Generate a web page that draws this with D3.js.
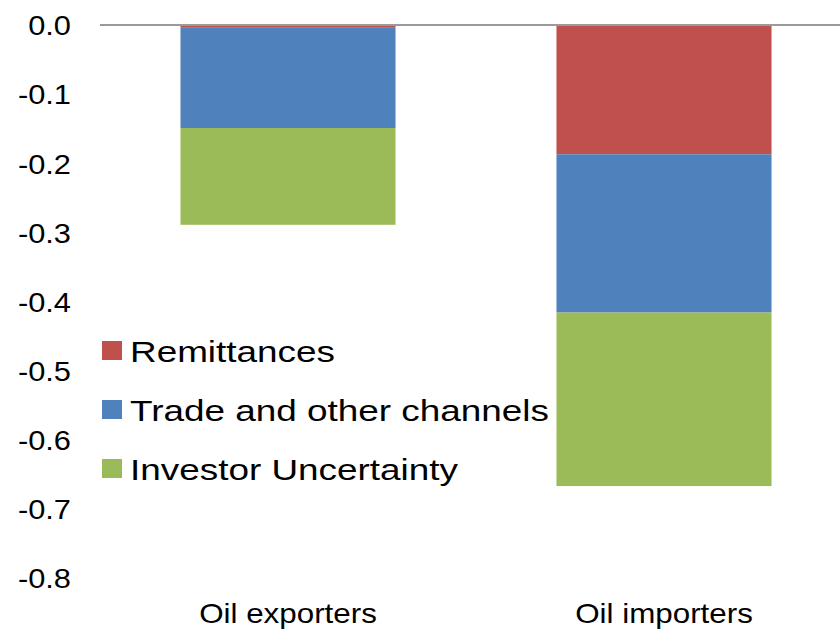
<!DOCTYPE html>
<html>
<head>
<meta charset="utf-8">
<script src="https://cdn.jsdelivr.net/npm/d3@7"></script>
<style>
  body { margin: 0; background: #fff; }
  svg { display: block; font-family: Arial, "Liberation Sans", sans-serif; }
</style>
</head>
<body>
<svg></svg>
<script>
// data
let categories = ['Oil exporters', 'Oil importers']
let seriesNames = ['Remittances', 'Trade and other channels', 'Investor Uncertainty']
let remittances = [-0.004, -0.187]
let trade = [-0.145, -0.229]
let investor = [-0.140, -0.251]
let yTicks = [0, -0.1, -0.2, -0.3, -0.4, -0.5, -0.6, -0.7, -0.8]
let colors = ['#c0504d', '#4f81bd', '#9bbb59']

let width = 840
let height = 632
let svg = d3.select('svg').attr('width', width).attr('height', height)

let rows = categories.map((c, i) => ({
    cat: c,
    'Remittances': remittances[i],
    'Trade and other channels': trade[i],
    'Investor Uncertainty': investor[i]
}))

let stack = d3.stack()
    .keys(seriesNames)
    .offset(d3.stackOffsetDiverging)
let layers = stack(rows)

let xScale = d3.scaleBand()
    .domain(categories)
    .range([100, 852])
    .paddingInner(0.428)
    .paddingOuter(0.214)

let yScale = d3.scaleLinear()
    .domain([0, -0.8])
    .range([25, 578])

// bars
svg.selectAll('g.layer')
    .data(layers)
    .enter()
    .append('g')
    .attr('class', 'layer')
    .attr('fill', (d, i) => colors[i])
    .selectAll('rect')
    .data(d => d)
    .enter()
    .append('rect')
    .attr('x', d => xScale(d.data.cat))
    .attr('width', xScale.bandwidth())
    .attr('y', d => Math.min(yScale(d[0]), yScale(d[1])))
    .attr('height', d => Math.abs(yScale(d[1]) - yScale(d[0])))

// zero line
svg.append('line')
    .attr('x1', 100)
    .attr('x2', width)
    .attr('y1', yScale(0))
    .attr('y2', yScale(0))
    .attr('stroke', '#9a9a9a')
    .attr('stroke-width', 2)

// y axis labels
let fmt = d3.format('.1f')
let yAxis = d3.axisLeft(yScale)
    .tickValues(yTicks)
    .tickFormat(d => fmt(d).replace('\u2212', '-'))
    .tickSize(0)
    .tickPadding(0)
let yg = svg.append('g')
    .attr('transform', 'translate(71,0)')
    .call(yAxis)
yg.select('.domain').remove()
yg.selectAll('.tick text')
    .attr('x', 0)
    .attr('y', 0)
    .attr('dy', '0.35em')
    .attr('fill', '#000')
    .style('font-size', '28px')
    .attr('transform', 'scale(1.1,1)')

// x axis labels
let xAxis = d3.axisBottom(xScale).tickSize(0).tickPadding(0)
let xg = svg.append('g')
    .attr('transform', 'translate(0,613)')
    .call(xAxis)
xg.select('.domain').remove()
xg.selectAll('text')
    .attr('y', 0)
    .attr('dy', '0.35em')
    .attr('fill', '#000')
    .style('font-size', '28px')
    .attr('transform', 'scale(1.12,1)')

// legend
let legend = svg.append('g')
    .selectAll('g')
    .data(seriesNames)
    .enter()
    .append('g')
    .attr('transform', (d, i) => 'translate(102,' + (351 + i * 59) + ')')
legend.append('rect')
    .attr('x', 0)
    .attr('y', -10)
    .attr('width', 20)
    .attr('height', 19)
    .attr('fill', (d, i) => colors[i])
legend.append('text')
    .attr('transform', 'translate(28,0) scale(1.23,1)')
    .attr('dy', '0.35em')
    .style('font-size', '30px')
    .attr('fill', '#000')
    .text(d => d)
</script>
</body>
</html>
